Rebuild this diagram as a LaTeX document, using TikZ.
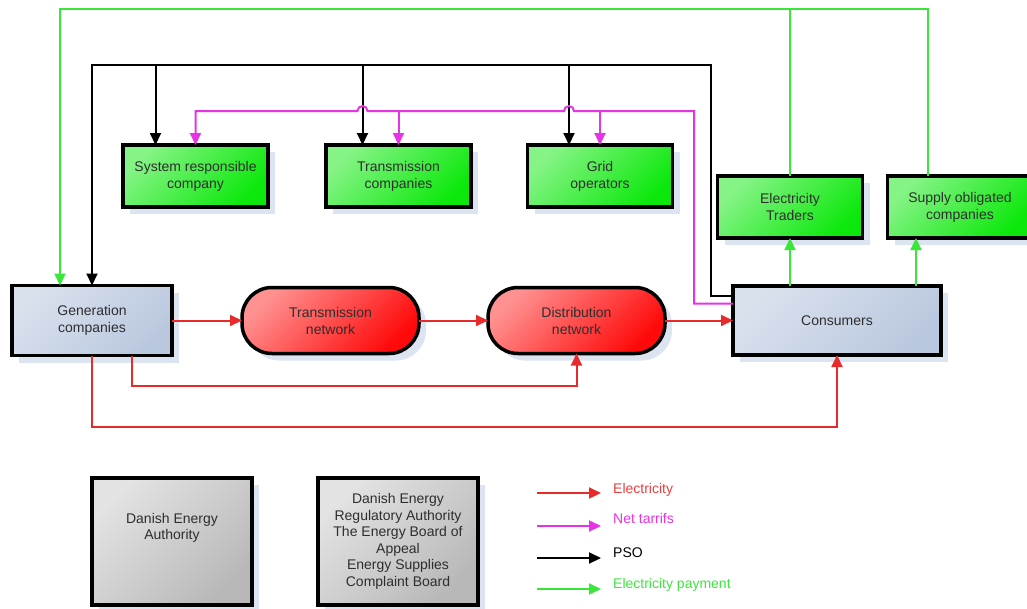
\documentclass[tikz,border=0pt]{standalone}
\usepackage{fontspec}
\setmainfont{Liberation Sans}
\usepackage{xcolor}
\definecolor{elecred}{HTML}{E82A2A}
\definecolor{tarmag}{HTML}{E633E6}
\definecolor{paygreen}{HTML}{3BE63B}
\definecolor{boxgreen}{HTML}{0CE80C}
\definecolor{boxblue}{HTML}{BAC8DF}
\definecolor{boxgrey}{HTML}{B8B8B8}
\definecolor{pillred}{HTML}{FF0A0A}
\definecolor{shadowblue}{HTML}{DCE4F1}
\definecolor{txtgrey}{HTML}{2E2E2E}
\usepackage{tikz}
\usetikzlibrary{arrows.meta,shadows,calc}

\begin{document}
\begin{tikzpicture}[x=1pt,y=-1pt,font=\fontsize{14}{17}\selectfont,
  box/.style={draw,line width=3.5pt,outer sep=0pt,align=center,text=txtgrey,inner sep=2pt,
    drop shadow={shadow xshift=7pt,shadow yshift=-7pt,fill=shadowblue,opacity=1}},
  bluebox/.style={box,minimum width=160pt,minimum height=70pt,
    top color=boxblue!55!white,middle color=boxblue!85!white,bottom color=boxblue,shading angle=45},
  pill/.style={box,rounded corners=30pt,minimum width=177pt,minimum height=66pt,
    top color=pillred!45!white,middle color=pillred,bottom color=pillred,shading angle=45},
  greenbox/.style={box,minimum width=145pt,minimum height=62pt,
    top color=boxgreen!50!white,middle color=boxgreen,bottom color=boxgreen,shading angle=45},
  greybox/.style={box,minimum width=160pt,minimum height=127pt,
    font=\fontsize{14}{16.5}\selectfont,
    top color=boxgrey!40!white,bottom color=boxgrey,shading angle=45},
  link/.style={line width=2pt,-{Triangle[length=12pt,width=11pt]}},
  elec/.style={link,elecred},
  tariff/.style={link,tarmag},
  pso/.style={link,black},
  pay/.style={link,paygreen},
  legtext/.style={anchor=west,inner sep=0pt}]
\useasboundingbox (0,0) rectangle (1027,608);

\node[greenbox] (src) at (195.5,176) {System responsible\\company};
\node[greenbox] (tcomp) at (398.5,176) {Transmission\\companies};
\node[greenbox] (grid) at (600,176) {Grid\\operators};
\node[greenbox] (trad) at (790,207) {Electricity\\Traders};
\node[greenbox] (sup) at (960,207) {Supply obligated\\companies};

\node[bluebox] (gen) at (92,320.5) {Generation\\companies};
\node[pill] (tnet) at (330.5,320.5) {Transmission\\network};
\node[pill] (dnet) at (576.5,320.5) {Distribution\\network};
\node[bluebox,minimum width=208pt,minimum height=69pt] (cons) at (837,320.5) {Consumers};

\node[greybox] (dea) at (172,541.5) {Danish Energy\\Authority\\[14pt]};
\node[greybox] (der) at (398,541.5) {Danish Energy\\Regulatory Authority\\The Energy Board of\\Appeal\\Energy Supplies\\Complaint Board};

\coordinate (psotop) at (711,65);
\coordinate (paytop) at (60,9);

\draw[elec] (gen) -- (tnet);
\draw[elec] (tnet) -- (dnet);
\draw[elec] (dnet) -- (cons);
\draw[elec] ([xshift=40pt]gen.south) -- ++(0,30) -| (dnet.south);
\draw[elec] (gen.south) -- ++(0,71) -| (cons.south);

\draw[pso] ([yshift=25pt]cons.west) -| (psotop) -| (gen.north);
\draw[pso] ([xshift=-40pt]src.north) ++(0,-80) -- ([xshift=-40pt]src.north);
\draw[pso] ([xshift=-36pt]tcomp.north) ++(0,-80) -- ([xshift=-36pt]tcomp.north);
\draw[pso] ([xshift=-31pt]grid.north) ++(0,-80) -- ([xshift=-31pt]grid.north);

\draw[tariff] ([yshift=17pt]cons.west) -| (694,111) -- ++(-120,0)
  arc[start angle=0,end angle=180,radius=5pt] -- ++(-196.5,0)
  arc[start angle=0,end angle=180,radius=5pt] -| (src.north);
\draw[tariff] (tcomp.north) ++(0,-34) -- (tcomp.north);
\draw[tariff] (grid.north) ++(0,-34) -- (grid.north);

\draw[pay] (trad.north) |- (paytop) -- ([xshift=-32pt]gen.north);
\draw[pay,-] ([xshift=-32pt]sup.north) |- (paytop -| trad.north);
\draw[pay] (cons.north -| trad.south) -- (trad.south);
\draw[pay] ([xshift=-44pt]sup.south) ++(0,47.5) -- ([xshift=-44pt]sup.south);

\node[legtext,text=elecred!90!white] (lgelec) at (613,490) {Electricity};
\node[legtext,text=tarmag] (lgtar) at (613,518) {Net tarrifs};
\node[legtext,text=black] (lgpso) at (613,553) {PSO};
\node[legtext,text=paygreen] (lgpay) at (613,585) {Electricity payment};
\draw[elec] ([xshift=-76pt,yshift=-3pt]lgelec.west) -- ([xshift=-12pt,yshift=-3pt]lgelec.west);
\draw[tariff] ([xshift=-76pt,yshift=-8pt]lgtar.west) -- ([xshift=-12pt,yshift=-8pt]lgtar.west);
\draw[pso] ([xshift=-76pt,yshift=-5pt]lgpso.west) -- ([xshift=-12pt,yshift=-5pt]lgpso.west);
\draw[pay] ([xshift=-76pt,yshift=-4pt]lgpay.west) -- ([xshift=-12pt,yshift=-4pt]lgpay.west);
\end{tikzpicture}
\end{document}
